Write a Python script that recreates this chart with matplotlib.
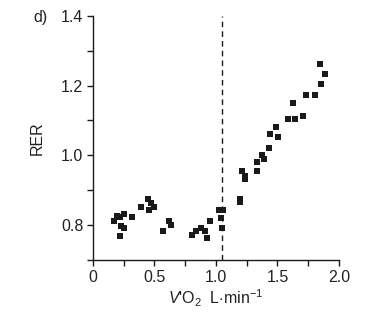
import matplotlib
matplotlib.use("Agg")
import matplotlib.pyplot as plt
from matplotlib.ticker import MultipleLocator

# VO2 (L/min) y RER
vo2 = [0.173, 0.193, 0.220, 0.254, 0.230, 0.254, 0.222, 0.320, 0.393, 0.450,
       0.474, 0.458, 0.493, 0.572, 0.620, 0.637, 0.807, 0.840, 0.880, 0.908,
       0.929, 0.954, 1.027, 1.054, 1.043, 1.051, 1.198, 1.198, 1.214, 1.238,
       1.238, 1.331, 1.336, 1.376, 1.393, 1.433, 1.441, 1.507, 1.490, 1.588,
       1.645, 1.710, 1.628, 1.734, 1.807, 1.856, 1.889, 1.848]
rer = [0.811, 0.827, 0.823, 0.831, 0.799, 0.791, 0.769, 0.823, 0.851, 0.874,
       0.863, 0.843, 0.851, 0.783, 0.811, 0.800, 0.772, 0.783, 0.791, 0.783,
       0.763, 0.811, 0.843, 0.843, 0.820, 0.791, 0.874, 0.866, 0.954, 0.942,
       0.931, 0.982, 0.954, 1.002, 0.991, 1.020, 1.062, 1.054, 1.082, 1.103,
       1.103, 1.114, 1.150, 1.173, 1.173, 1.205, 1.233, 1.262]
umbral = 1.05

plt.rcParams['font.family'] = ['Liberation Sans', 'DejaVu Sans']
plt.rcParams['mathtext.fontset'] = 'custom'
plt.rcParams['mathtext.it'] = 'Liberation Sans:italic'
plt.rcParams['mathtext.rm'] = 'Liberation Sans'

texto = '#222222'
fig = plt.figure(figsize=(3.82, 3.16), dpi=100)
ax = fig.add_axes([0.2435, 0.177, 0.6435, 0.773])

ax.scatter(vo2, rer, marker='s', s=22, color='#1a1a1a', linewidths=0, zorder=3)
ax.axvline(umbral, color='#1a1a1a', lw=1.0, ls=(0, (4, 3)))

ax.set_xlim(0, 2.0)
ax.set_ylim(0.7, 1.4)
ax.spines['top'].set_visible(False)
ax.spines['right'].set_visible(False)
for s in ('left', 'bottom'):
    ax.spines[s].set_linewidth(1.0)
    ax.spines[s].set_color('#1a1a1a')

ax.xaxis.set_minor_locator(MultipleLocator(0.25))
ax.yaxis.set_minor_locator(MultipleLocator(0.1))
ax.set_xticks([0, 0.5, 1.0, 1.5, 2.0])
ax.set_xticklabels(['0', '0.5', '1.0', '1.5', '2.0'])
ax.set_yticks([0.8, 1.0, 1.2, 1.4])
ax.set_yticklabels(['0.8', '1.0', '1.2', '1.4'])
ax.tick_params(which='both', direction='out', length=4, width=1.0,
               color='#1a1a1a', labelsize=11.5, labelcolor=texto, pad=3)

ax.set_ylabel('RER', fontsize=11.5, color=texto, labelpad=12)
ax.set_xlabel(r"$V$'O$_2$  L$\cdot$min$^{-1}$", fontsize=11.5, color=texto, labelpad=2)
fig.text(0.107, 0.945, 'd)', fontsize=11.5, color=texto, ha='center', va='center')

fig.savefig('out.png', dpi=100)
